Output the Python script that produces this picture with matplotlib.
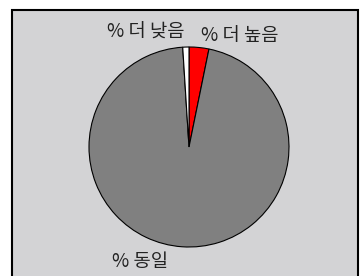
import matplotlib
matplotlib.use('Agg')
import matplotlib.pyplot as plt
from matplotlib.patches import Rectangle

plt.rcParams['font.family'] = ['Noto Sans CJK KR', 'DejaVu Sans']

# data, clockwise from 12 o'clock
labels = ['% 더 높음', '% 동일', '% 더 낮음']
values = [3.2, 95.8, 1.0]
colors = ['#ff0000', '#808080', '#ffffff']

W, H = 360, 276
fig = plt.figure(figsize=(W / 100, H / 100), dpi=100)
fig.patch.set_facecolor('white')

# grey panel with black border (bottom edge runs off the image)
bg = fig.add_axes([0, 0, 1, 1], zorder=-1)
bg.set_xlim(0, W)
bg.set_ylim(H, 0)
bg.axis('off')
bg.add_patch(Rectangle((12, 10), 346, 280, facecolor='#d3d3d5',
                       edgecolor='black', linewidth=1.5))

cx, cy, r = 189, 147, 101
ax = fig.add_axes([(cx - r) / W, (H - cy - r) / H, 2 * r / W, 2 * r / H])
ax.pie(values, colors=colors, startangle=90, counterclock=False,
       wedgeprops=dict(edgecolor='black', linewidth=0.8))
ax.set_xlim(-1.01, 1.01)
ax.set_ylim(-1.01, 1.01)
ax.set_aspect('equal')
ax.axis('off')

# label spots (pixels from top-left)
label_pos = {'% 더 높음': (201, 35), '% 동일': (112, 262), '% 더 낮음': (107, 32)}
for lab in labels:
    x, y = label_pos[lab]
    bg.text(x, y, lab, fontsize=13.5, color='#222222', ha='left', va='center')

fig.savefig('out.png', dpi=100)
